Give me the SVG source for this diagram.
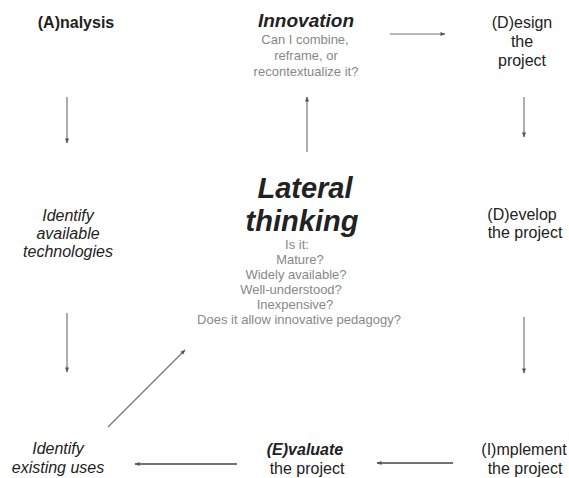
<svg xmlns="http://www.w3.org/2000/svg" width="569" height="478" viewBox="0 0 569 478">
<defs>
<marker id="ah" viewBox="0 0 10 10" refX="9" refY="5" markerWidth="6" markerHeight="5" orient="auto" markerUnits="userSpaceOnUse"><path d="M0,1 L10,5 L0,9 z" fill="#555"/></marker>
<style>
text{font-family:"Liberation Sans",Arial,sans-serif;text-anchor:middle;fill:#222}
.n{font-size:16px}
.b{font-weight:bold}
.i{font-style:italic}
.g{fill:#888;font-size:13px}
.big{font-size:29px;font-weight:bold;font-style:italic;fill:#222}
.c line{stroke:#777;stroke-width:1.2;marker-end:url(#ah)}
.c line.d{stroke:#444;stroke-width:1.6}
</style>
</defs>
<rect width="569" height="478" fill="#fff"/>
<g id="analysis"><text class="n b" x="76" y="28">(A)nalysis</text></g>
<g id="innovation">
<text class="b i" x="306" y="27" font-size="19">Innovation</text>
<text class="g" x="305" y="44">Can I combine,</text>
<text class="g" x="306" y="60">reframe, or</text>
<text class="g" x="306" y="76">recontextualize it?</text>
</g>
<g id="design">
<text class="n" x="522" y="28">(D)esign</text>
<text class="n" x="522" y="47">the</text>
<text class="n" x="522" y="66">project</text>
</g>
<g id="technologies">
<text class="n i" x="68" y="221">Identify</text>
<text class="n i" x="68" y="239">available</text>
<text class="n i" x="68" y="257">technologies</text>
</g>
<g id="lateral">
<text class="big" x="305" y="198">Lateral</text>
<text class="big" x="302" y="231">thinking</text>
<text class="g" x="297" y="249">Is it:</text>
<text class="g" x="300" y="264">Mature?</text>
<text class="g" x="296" y="279">Widely available?</text>
<text class="g" x="291" y="294">Well-understood?</text>
<text class="g" x="295" y="309">Inexpensive?</text>
<text class="g" x="299" y="324">Does it allow innovative pedagogy?</text>
</g>
<g id="develop">
<text class="n" x="522" y="220">(D)evelop</text>
<text class="n" x="525" y="238">the project</text>
</g>
<g id="existing">
<text class="n i" x="58" y="454">Identify</text>
<text class="n i" x="58" y="473">existing uses</text>
</g>
<g id="evaluate">
<text class="n b i" x="305" y="455">(E)valuate</text>
<text class="n" x="307" y="474">the project</text>
</g>
<g id="implement">
<text class="n" x="524" y="455">(I)mplement</text>
<text class="n" x="525" y="474">the project</text>
</g>
<g id="connectors" class="c">
<line x1="390" y1="34" x2="445" y2="34"/>
<line x1="67" y1="97" x2="67" y2="143"/>
<line x1="307" y1="152" x2="307" y2="97"/>
<line x1="524" y1="97" x2="524" y2="137"/>
<line x1="67" y1="313" x2="67" y2="372"/>
<line x1="524" y1="317" x2="524" y2="373"/>
<line x1="108" y1="427" x2="185" y2="350"/>
<line class="d" x1="453" y1="463" x2="377" y2="463"/>
<line class="d" x1="237" y1="464" x2="135" y2="464"/>
</g>
</svg>
